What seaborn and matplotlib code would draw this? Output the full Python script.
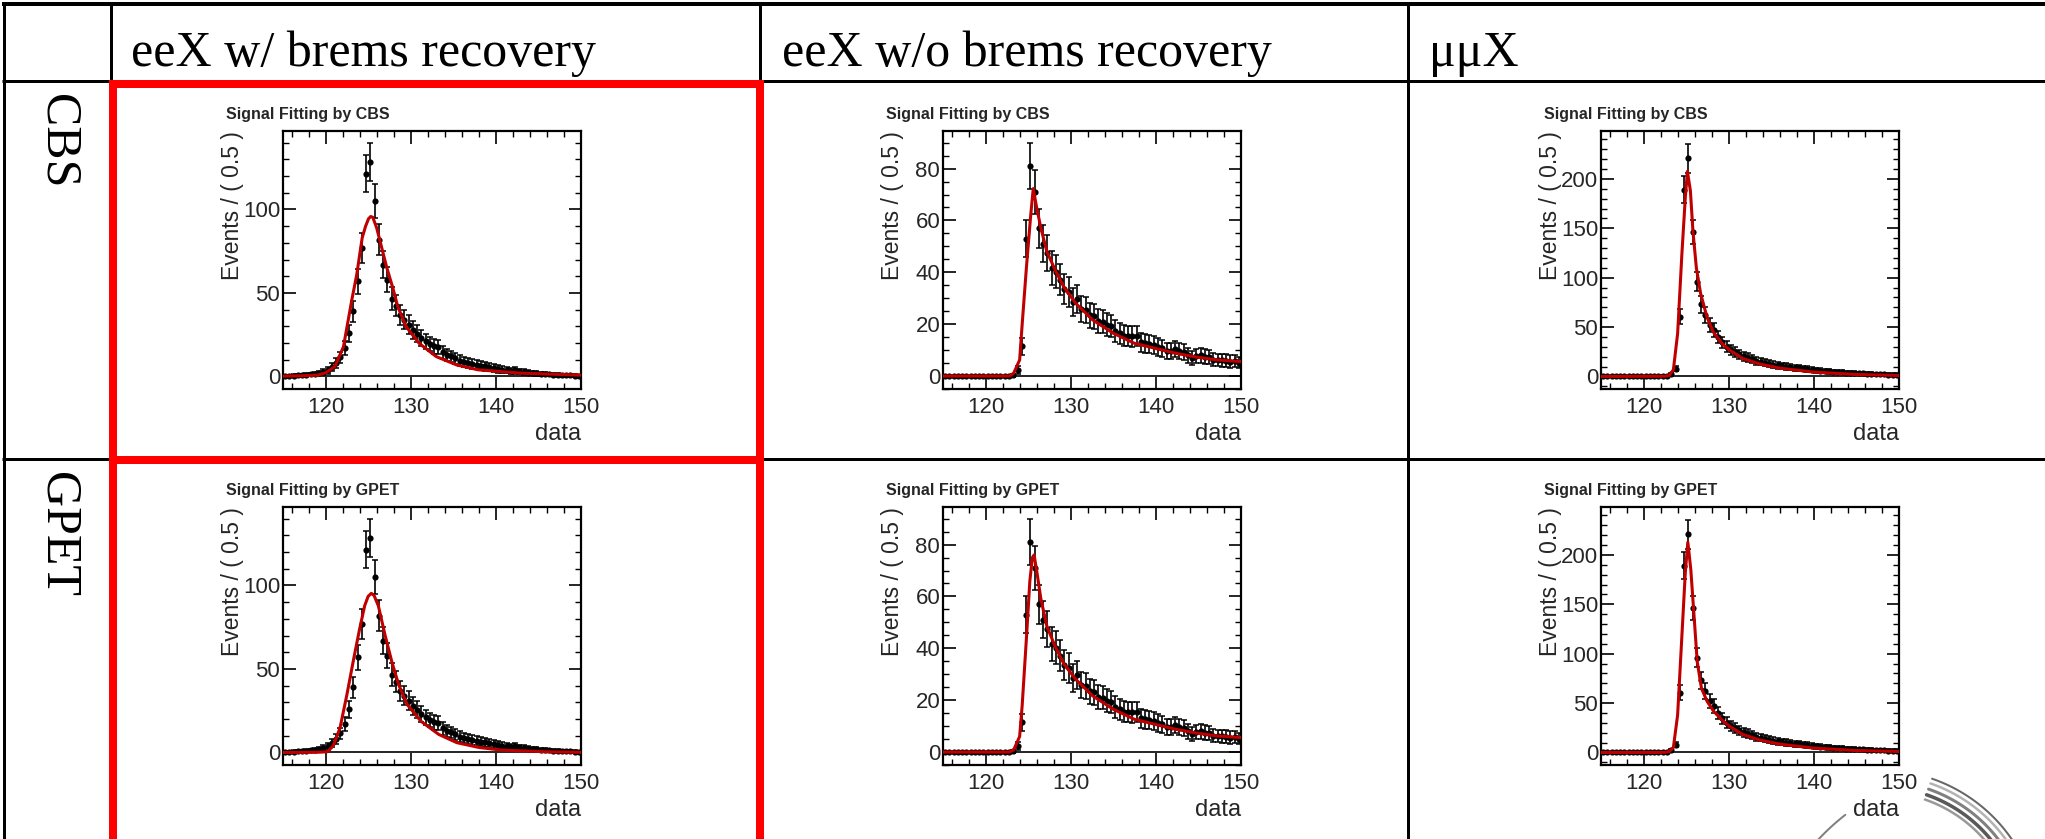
import numpy as np
import matplotlib
matplotlib.use("Agg")
import matplotlib.pyplot as plt
import seaborn as sns
from matplotlib.patches import Rectangle
from matplotlib.ticker import MultipleLocator

# ---------------- data ----------------
column_titles = ["eeX w/ brems recovery", "eeX w/o brems recovery", "μμX"]
row_titles = ["CBS", "GPET"]
panel_titles = ["Signal Fitting by CBS", "Signal Fitting by GPET"]

bin_lo, bin_hi, bin_w = 115.0, 150.0, 0.5

# events per 0.5 bin (same data in both rows)
counts_ee_brem = [0.3, 0.4, 0.5, 0.6, 0.8, 1.0, 1.2, 1.5, 2.0, 2.6,
                  3.6, 5.5, 8, 11.5, 17, 26, 39, 57, 77, 121.5,
                  128.5, 105, 82, 67, 58, 46.5, 42.5, 37, 34, 31,
                  28, 25.5, 23, 21, 19.5, 18, 17.5, 14.5, 13, 12,
                  11, 9.5, 8.5, 8, 7.5, 7, 6.5, 6, 5.5, 5,
                  4.5, 4, 3.8, 3.5, 3.6, 3, 2.6, 2.3, 2, 1.8,
                  1.5, 1.3, 1.2, 1, 0.9, 0.8, 0.7, 0.6, 0.5, 0.4]
counts_ee_nobrem = [0, 0, 0, 0, 0, 0, 0, 0, 0, 0,
                    0, 0, 0, 0, 0, 0, 0.3, 2.2, 11.4, 53,
                    81, 71, 57, 51, 47.5, 41.7, 40.3, 37.2, 33.7, 32.4,
                    28.6, 29.8, 25.8, 25.4, 23.5, 23.1, 21.2, 21.0, 19.8, 19.3,
                    17.5, 16.5, 15.6, 15.4, 15.3, 15.5, 13.0, 12.6, 12.4, 12.0,
                    11.2, 10.8, 9.6, 9.8, 10.4, 9.5, 9.4, 8.0, 7.0, 7.6,
                    8.0, 7.5, 7.2, 6.3, 6.2, 6.0, 5.9, 5.6, 5.8, 5.2]
counts_mumu = [0.2, 0.2, 0.2, 0.2, 0.2, 0.2, 0.2, 0.2, 0.2, 0.3,
               0.3, 0.3, 0.3, 0.3, 0.4, 0.5, 2, 8, 60.5, 189,
               221, 146, 96, 73, 62, 52, 47, 40, 34.5, 30,
               27, 24.5, 22.5, 20.5, 19, 17.5, 16, 15, 14, 13,
               12, 11.3, 10.5, 10, 9.5, 9, 8.5, 8, 7.5, 7,
               6.5, 6, 5.6, 5.2, 4.8, 4.5, 4.2, 3.9, 3.6, 3.4,
               3.2, 3, 2.8, 2.6, 2.4, 2.2, 2, 1.9, 1.8, 1.7]

# fitted curves (x, y)
fit_ee_brem_cbs_x = [115, 117, 119.1, 120.1, 121.1, 122.1, 123.07, 123.66, 124.3, 124.7, 125.05,
                     125.3, 125.55, 126.0, 126.5, 127.2, 127.9, 128.5, 129.5, 131, 133, 135.4,
                     137.9, 142.9, 150]
fit_ee_brem_cbs_y = [0.2, 0.4, 0.8, 2.4, 6, 17.8, 45.5, 61, 83, 90, 94.5,
                     95.8, 95.3, 89, 79, 65, 53, 41.5, 29.6, 19.8, 11.9, 6.9,
                     4, 2, 0.8]
fit_ee_brem_gpet_x = [115, 119, 120.2, 120.9, 121.7, 122.5, 123.3, 124.0, 124.6, 125.0, 125.37,
                      125.7, 126.2, 127.0, 127.8, 128.6, 129.6, 131.2, 133.3, 135.4, 138.0,
                      140.7, 146.0, 150]
fit_ee_brem_gpet_y = [0, 0.1, 0.4, 3.9, 14.8, 34.5, 56, 74, 88, 93.5, 95.3,
                      94, 87.8, 70, 54, 40.4, 28.6, 18.7, 10.8, 5.9, 3.0,
                      1.4, 0.4, 0.1]
fit_ee_nobrem_cbs_x = [115, 122.8, 123.3, 124.0, 124.3, 124.8, 125.3, 125.6, 126.0, 126.5, 127.2,
                       128.2, 129.2, 130.6, 132.6, 135.0, 137.5, 139.9, 142.3, 144.8, 147.2, 150]
fit_ee_nobrem_cbs_y = [0, 0, 1.1, 6.2, 20, 42, 62, 72.3, 65, 57, 48,
                       40.7, 34.3, 28, 21.6, 16.5, 12.6, 10.7, 8.8, 7.3, 6.2, 5.6]
fit_ee_nobrem_gpet_x = [115, 122.8, 123.3, 124.0, 124.3, 124.8, 125.2, 125.5, 125.7, 126.0, 126.5,
                        127.2, 128.2, 129.2, 130.6, 132.6, 135.0, 137.5, 139.9, 142.3, 144.8,
                        147.2, 150]
fit_ee_nobrem_gpet_y = [0, 0, 0.8, 6, 18, 44, 66, 75, 76, 70, 59,
                        48.5, 40.5, 34, 28, 21.6, 16.5, 12.6, 10.7, 8.8, 7.3,
                        6.2, 5.6]
fit_mumu_cbs_x = [115, 122.5, 123.0, 123.5, 124.0, 124.5, 124.9, 125.15, 125.5, 125.8, 126.2,
                  126.7, 127.45, 128.2, 129.2, 130.1, 131.6, 133.6, 136, 140, 144.9, 150]
fit_mumu_cbs_y = [0, 0.2, 1, 6.7, 43.5, 124, 181, 207.7, 188, 147, 110,
                  84, 60, 45, 33.5, 26.8, 18.4, 12.7, 8.4, 4.4, 2, 1]
fit_mumu_gpet_x = [115, 122.5, 123.0, 123.5, 124.0, 124.5, 124.9, 125.2, 125.55, 125.9, 126.3,
                   126.8, 127.45, 128.2, 129.2, 130.1, 131.6, 133.6, 136, 140, 144.9, 150]
fit_mumu_gpet_y = [0, 0.1, 0.8, 5, 38, 118, 182, 213, 185, 142, 92,
                   65, 52, 42, 33, 26.5, 18.4, 12.7, 8.4, 4.4, 2, 1]

y_ranges = [(-7.5, 147), (-5, 94.5), (-12.7, 248.6)]
y_major = [50, 20, 50]
y_minor = [10, 5, 10]

counts_by_col = [counts_ee_brem, counts_ee_nobrem, counts_mumu]
fits = {
    (0, 0): (fit_ee_brem_cbs_x, fit_ee_brem_cbs_y),
    (0, 1): (fit_ee_brem_gpet_x, fit_ee_brem_gpet_y),
    (1, 0): (fit_ee_nobrem_cbs_x, fit_ee_nobrem_cbs_y),
    (1, 1): (fit_ee_nobrem_gpet_x, fit_ee_nobrem_gpet_y),
    (2, 0): (fit_mumu_cbs_x, fit_mumu_cbs_y),
    (2, 1): (fit_mumu_gpet_x, fit_mumu_gpet_y),
}

# ---------------- layout ----------------
sns.set_style("ticks")
SANS = ["Liberation Sans", "DejaVu Sans"]
SERIF = ["Liberation Serif", "DejaVu Serif"]
plt.rcParams["font.family"] = SANS

W, H = 2045, 839
fig = plt.figure(figsize=(W / 100, H / 100), dpi=100, facecolor="white")
bg = fig.add_axes([0, 0, 1, 1], zorder=0)
bg.set_xlim(0, W)
bg.set_ylim(H, 0)
bg.axis("off")

PX = 0.72  # points per pixel
def hline(y, x0, x1, w=3):
    bg.plot([x0, x1], [y, y], color="black", lw=w * PX, solid_capstyle="butt", zorder=2)
def vline(x, y0, y1, w=3):
    bg.plot([x, x], [y0, y1], color="black", lw=w * PX, solid_capstyle="butt", zorder=2)

hline(4, 2, W, 4)
hline(81, 2, W, 3)
hline(459, 2, W, 3)
vline(4, 2, H, 3)
for x in [111, 760, 1408]:
    vline(x, 2, H, 3)

# header and row labels
for x, t in zip([131, 782, 1429], column_titles):
    bg.text(x, 66, t, fontsize=36, family=SERIF, ha="left", va="baseline", color="black")
for y, t in zip([94, 472], row_titles):
    bg.text(58, y, t, fontsize=36, family=SERIF, rotation=-90, ha="center", va="top", color="black")

# red highlight boxes
bg.add_patch(Rectangle((113.5, 83.5), 647, 376, fill=False, edgecolor="#ff0000",
                       lw=8 * PX, zorder=3))
bg.add_patch(Rectangle((113.5, 459.5), 647, 460, fill=False, edgecolor="#ff0000",
                       lw=8 * PX, zorder=3))

# faint grey swirl peeking in at the lower right corner (background decoration)
for R, g, w in [(138, "0.6", 2.5), (143, "0.35", 3.5), (149, "0.5", 3.0),
                (155, "0.7", 2.5), (160, "0.4", 2.0)]:
    t = np.radians(np.linspace(28, 71, 40))
    bg.plot(1880 + R * np.cos(t), 930 - R * np.sin(t), color=g, lw=w * PX, zorder=1)
t = np.radians(np.linspace(128, 139, 15))
bg.plot(1990 + 235 * np.cos(t), 1000 - 235 * np.sin(t), color="0.5", lw=2 * PX, zorder=1)

axes_left = [283, 943, 1601]
row_top = [131, 507]
AW, AH = 298, 258
RED = "#c00000"

centers = np.arange(bin_lo + bin_w / 2, bin_hi, bin_w)

for c in range(3):
    counts = np.array(counts_by_col[c], dtype=float)
    for r in range(2):
        left, top = axes_left[c], row_top[r]
        ax = fig.add_axes([left / W, 1 - (top + AH) / H, AW / W, AH / H], zorder=4)
        ax.set_facecolor("white")
        ax.axhline(0, color="black", lw=1.2, zorder=1)
        ax.errorbar(centers, counts, yerr=np.sqrt(counts), fmt="none", ecolor="black",
                    elinewidth=1.2, capsize=2.0, capthick=1.1, zorder=3)
        sns.scatterplot(x=centers, y=counts, ax=ax, color="black", s=20, linewidth=0, zorder=4)
        fx, fy = fits[(c, r)]
        sns.lineplot(x=fx, y=fy, ax=ax, color=RED, lw=2.2, sort=False, estimator=None, zorder=5)
        ax.set_xlim(bin_lo, bin_hi)
        ax.set_ylim(*y_ranges[c])
        ax.xaxis.set_major_locator(MultipleLocator(10))
        ax.xaxis.set_minor_locator(MultipleLocator(2))
        ax.yaxis.set_major_locator(MultipleLocator(y_major[c]))
        ax.yaxis.set_minor_locator(MultipleLocator(y_minor[c]))
        ax.tick_params(which="both", direction="in", top=True, right=True, color="black")
        ax.tick_params(which="major", length=9, width=1.2)
        ax.tick_params(which="minor", length=4.5, width=1.0)
        ax.tick_params(axis="x", which="major", labelsize=16, pad=6)
        ax.tick_params(axis="y", which="major", labelsize=16, pad=2)
        for s in ax.spines.values():
            s.set_linewidth(1.6)
            s.set_color("black")
        yl = ax.set_ylabel("Events / ( 0.5 )", loc="top", fontsize=16.5)
        ax.yaxis.set_label_coords(-51 / AW, 1.0)
        yl.set_verticalalignment("center")
        xl = ax.set_xlabel("data", loc="right", fontsize=17)
        ax.xaxis.set_label_coords(1.0, -45 / AH)
        xl.set_verticalalignment("center")
        bg.text(left - 57, top - 16, panel_titles[r], fontsize=11.5, fontweight="bold",
                family=SANS, ha="left", va="center")

fig.savefig("out.png", dpi=100, facecolor="white")
